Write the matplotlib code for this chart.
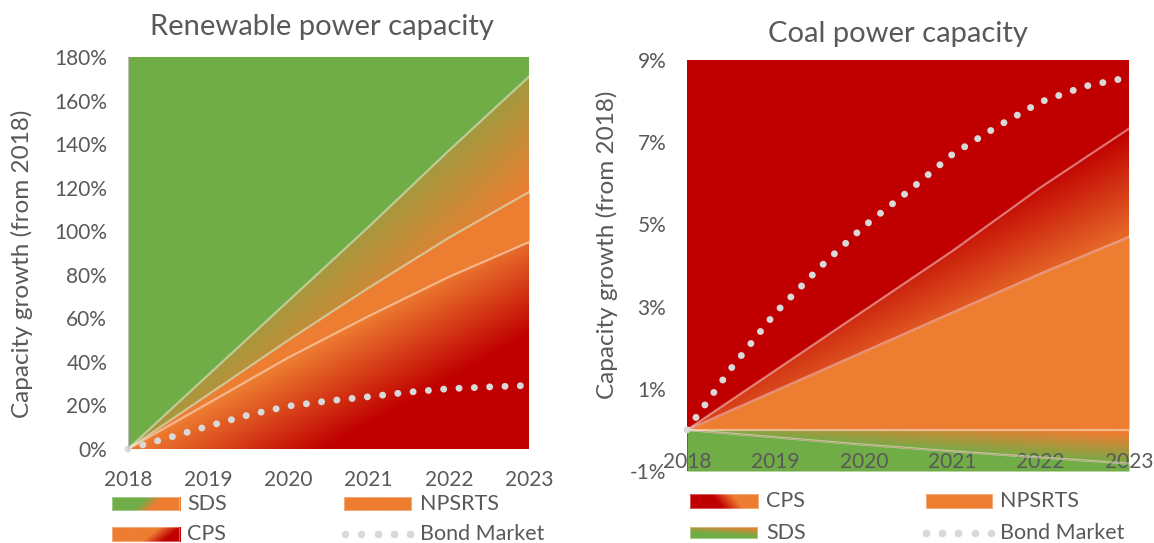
import numpy as np
import matplotlib
matplotlib.use('Agg')
import matplotlib.pyplot as plt
from matplotlib.patches import Rectangle

plt.rcParams['font.family'] = ['Lato', 'DejaVu Sans']

# ---- data (capacity growth from 2018, in %) ----
years = [2018, 2019, 2020, 2021, 2022, 2023]
half_years = [2018, 2018.5, 2019, 2019.5, 2020, 2020.5, 2021, 2021.5, 2022, 2022.5, 2023]

# renewable power capacity
ren_sds = [0, 34, 68, 102, 137, 171]
ren_npsrts = [0, 25, 50, 74, 97, 118]
ren_cps = [0, 21, 42, 61, 79, 95]
ren_bond = [0, 5.1, 10.5, 15.6, 19.7, 22.1, 24.0, 26.1, 27.7, 28.5, 29.2]

# coal power capacity
coal_cps = [0, 1.45, 2.9, 4.35, 5.9, 7.33]
coal_npsrts = [0, 0.95, 1.9, 2.85, 3.8, 4.69]
coal_base = [0, 0, 0, 0, 0, 0]
coal_sds = [0, -0.18, -0.36, -0.52, -0.67, -0.82]
coal_bond = [0, 1.5, 2.85, 3.95, 4.95, 5.8, 6.7, 7.37, 7.98, 8.36, 8.58]

ren_yticks = list(range(0, 181, 20))
coal_yticks = [-1, 1, 3, 5, 7, 9]

GREEN = np.array([112, 173, 71]) / 255
ORANGE = np.array([237, 125, 49]) / 255
RED = np.array([192, 0, 0]) / 255
TXT = '#595959'
DOT = '#D9D9D9'

W, H = 1154, 543
fig = plt.figure(figsize=(W / 100, H / 100), dpi=100)


def box(x0, y0, x1, y1):
    # pixel box (top-left origin) -> figure fraction rect
    return [x0 / W, 1 - y1 / H, (x1 - x0) / W, (y1 - y0) / H]


def gradient_img(c0, c1, a, b, c, n=300):
    u, v = np.meshgrid(np.linspace(0, 1, n), np.linspace(0, 1, n))
    t = np.clip(a * u + b * v + c, 0, 1)[..., None]
    return (1 - t) * c0 + t * c1


def grad_band(ax, x, lo, hi, c0, c1, a, b, c):
    poly = ax.fill_between(x, lo, hi, facecolor='none', edgecolor='none')
    im = ax.imshow(gradient_img(c0, c1, a, b, c), extent=[0, 1, 0, 1],
                   transform=ax.transAxes, origin='lower', aspect='auto',
                   interpolation='bilinear', zorder=1)
    im.set_clip_path(poly.get_paths()[0], transform=ax.transData)


def edge_line(ax, x, y):
    ax.plot(x, y, color='white', alpha=0.45, lw=1.6, zorder=3)


def dots(ax, x, y):
    ax.plot(x, y, color=DOT, lw=5, linestyle=(0, (0.01, 2.2)),
            dash_capstyle='round', zorder=4, clip_on=False)


def style_axes(ax, yticks, fmt):
    ax.set_xlim(2018, 2023)
    ax.set_xticks(years)
    ax.set_xticklabels([str(y) for y in years])
    ax.set_yticks(yticks)
    ax.set_yticklabels([fmt(v) for v in yticks])
    ax.tick_params(length=0, labelsize=15, colors=TXT)
    ax.tick_params(axis='y', pad=15)
    ax.tick_params(axis='x', pad=15)
    for s in ax.spines.values():
        s.set_visible(False)


# ---------------- renewable ----------------
ax1 = fig.add_axes(box(128, 57, 529, 449))
ax1.set_facecolor(GREEN)
grad_band(ax1, years, ren_npsrts, ren_sds, GREEN, ORANGE, 1.85, -2.0, 0.45)
ax1.fill_between(years, ren_cps, ren_npsrts, color=ORANGE, lw=0, zorder=1.5)
grad_band(ax1, years, 0, ren_cps, ORANGE, RED, 2.06, -3.6, -0.01)
for s in (ren_sds, ren_npsrts, ren_cps):
    edge_line(ax1, years, s)
dots(ax1, half_years, ren_bond)
ax1.set_ylim(0, 180)
style_axes(ax1, ren_yticks, lambda v: f'{v}%')
ax1.axvline(2018, color='#BFBFBF', lw=1.5, zorder=5)

# ---------------- coal ----------------
ax2 = fig.add_axes(box(687, 60, 1129, 471))
ax2.set_facecolor(RED)
ax2.fill_between(years, -1, coal_sds, color=GREEN, lw=0, zorder=1)
grad_band(ax2, years, coal_npsrts, coal_cps, RED, ORANGE, 1.88, -3.3, 0.86)
ax2.fill_between(years, coal_base, coal_npsrts, color=ORANGE, lw=0, zorder=1.5)
grad_band(ax2, years, coal_sds, coal_base, ORANGE, GREEN, -0.98, -12.9, 2.12)
for s in (coal_cps, coal_npsrts, coal_base, coal_sds):
    edge_line(ax2, years, s)
dots(ax2, half_years, coal_bond)
ax2.set_ylim(-1, 9)
style_axes(ax2, coal_yticks, lambda v: f'{v}%')
ax2.spines['bottom'].set_position(('data', 0))
ax2.tick_params(axis='x', pad=16)

# titles and axis labels
fig.text(322 / W, 1 - 35 / H, 'Renewable power capacity', ha='center',
         va='baseline', fontsize=21, color=TXT)
fig.text(898 / W, 1 - 42 / H, 'Coal power capacity', ha='center',
         va='baseline', fontsize=21, color=TXT)
fig.text(22 / W, 1 - 264 / H, 'Capacity growth (from 2018)', rotation=90,
         ha='center', va='center', fontsize=17.5, color=TXT)
fig.text(607 / W, 1 - 245 / H, 'Capacity growth (from 2018)', rotation=90,
         ha='center', va='center', fontsize=17.5, color=TXT)


# ---------------- legends ----------------
def swatch(x0, y0, x1, y1, img):
    a = fig.add_axes(box(x0, y0, x1, y1))
    a.imshow(img, extent=[0, 1, 0, 1], origin='lower', aspect='auto',
             interpolation='bilinear')
    a.add_patch(Rectangle((0, 0), 1, 1, transform=a.transAxes, fill=False,
                          edgecolor=(1, 1, 1, 0.35), lw=1.5))
    a.set_xlim(0, 1)
    a.set_ylim(0, 1)
    a.axis('off')


def dot_swatch(x0, x1, yc):
    a = fig.add_axes(box(x0 - 5, yc - 6, x1 + 5, yc + 6))
    a.set_xlim(x0 - 5, x1 + 5)
    a.set_ylim(-1, 1)
    a.scatter(np.linspace(x0, x1, 5), [0] * 5, s=30, color=DOT, lw=0)
    a.axis('off')


def leg_text(x, yc, s):
    fig.text(x / W, 1 - yc / H, s, ha='left', va='center', fontsize=15.5,
             color=TXT)


solid_orange = gradient_img(ORANGE, ORANGE, 0, 0, 0, n=10)

swatch(112, 497, 180, 511, gradient_img(GREEN, ORANGE, 4.5, -0.9, -1.4))
leg_text(187, 504, 'SDS')
swatch(344, 497, 412, 511, solid_orange)
leg_text(420, 504, 'NPSRTS')
swatch(112, 527, 180, 542, gradient_img(ORANGE, RED, 3.3, -0.9, -1.4))
leg_text(187, 534, 'CPS')
dot_swatch(345, 410, 534)
leg_text(420, 534, 'Bond Market')

swatch(690, 494, 759, 509, gradient_img(RED, ORANGE, 3.3, 0.6, -1.6))
leg_text(766, 501, 'CPS')
swatch(926, 494, 993, 509, solid_orange)
leg_text(1000, 501, 'NPSRTS')
swatch(690, 527, 758, 539, gradient_img(GREEN, ORANGE, 0.5, 1.4, -0.8))
leg_text(766, 533, 'SDS')
dot_swatch(926, 991, 533)
leg_text(1000, 533, 'Bond Market')

fig.savefig('out.png', dpi=100)
